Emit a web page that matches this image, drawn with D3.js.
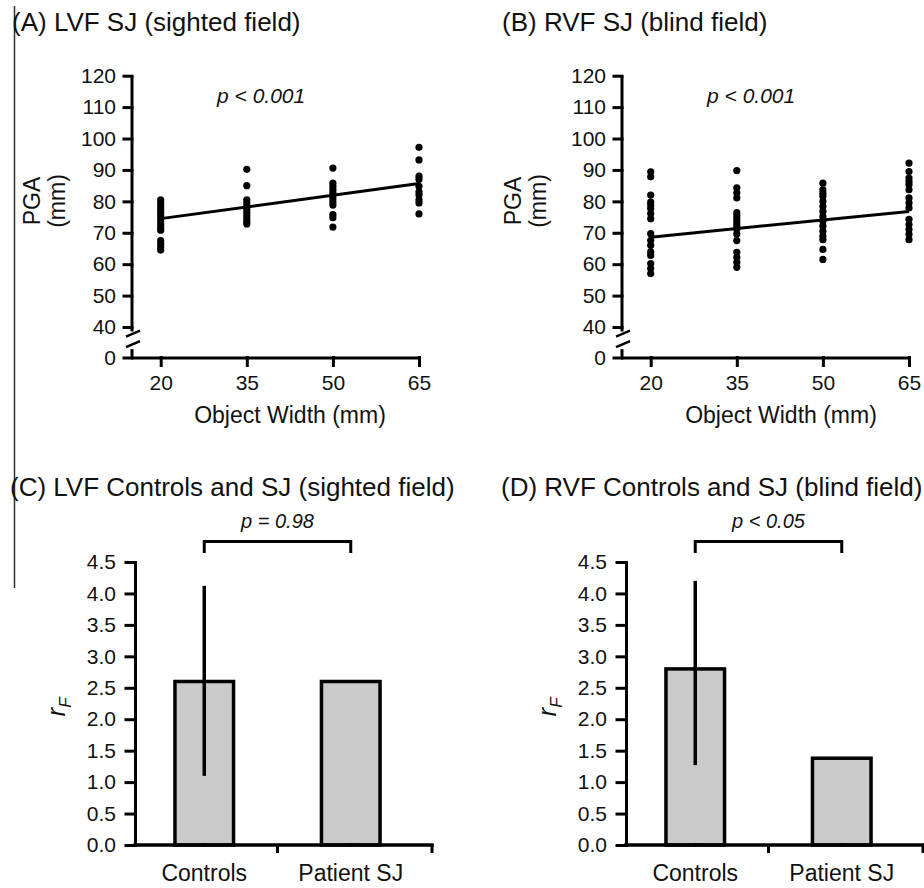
<!DOCTYPE html>
<html><head><meta charset="utf-8">
<script src="https://cdn.jsdelivr.net/npm/d3@7"></script>
<style>
body{margin:0;background:#fff}
text{font-family:"Liberation Sans",Arial,Helvetica,sans-serif;fill:#111}
</style></head><body>
<svg id="chart" width="924" height="888"></svg>
<script>
// ---------- data ----------
const widthTicks = [20, 35, 50, 65];
const pgaTicks = [0, 40, 50, 60, 70, 80, 90, 100, 110, 120];
const rfTicks = [0, 0.5, 1.0, 1.5, 2.0, 2.5, 3.0, 3.5, 4.0, 4.5];

// Panel A: LVF SJ (sighted field), PGA (mm) per object width
const lvf20 = [80.5, 79.5, 78.5, 77.5, 76.5, 75.5, 74.5, 73.5, 72.5, 71.5, 70.8, 67.5, 66.5, 65.5, 64.5];
const lvf35 = [90.2, 85.0, 80.5, 79.5, 78.5, 77.5, 76.5, 75.5, 74.5, 73.5, 72.8];
const lvf50 = [90.6, 85.8, 84.8, 83.8, 82.8, 81.8, 80.8, 79.8, 78.8, 75.8, 74.8, 71.8];
const lvf65 = [97.2, 93.2, 88.0, 87.0, 84.8, 83.0, 82.0, 80.5, 79.5, 76.0];
const lvfFit = [74.5, 85.7];   // fitted PGA at 20 and 65 mm

// Panel B: RVF SJ (blind field)
const rvf20 = [89.4, 87.8, 82.0, 79.8, 78.8, 77.7, 76.1, 74.5, 69.7, 67.6, 66.0, 63.9, 62.8, 60.2, 58.6, 57.0];
const rvf35 = [89.8, 84.3, 82.7, 81.1, 76.4, 75.3, 74.3, 73.2, 72.2, 71.1, 69.6, 67.5, 63.8, 62.2, 60.6, 59.0];
const rvf50 = [85.8, 83.7, 82.6, 81.6, 80.0, 78.4, 76.8, 75.2, 73.7, 72.1, 70.5, 68.9, 67.8, 64.7, 61.5];
const rvf65 = [92.2, 89.5, 87.4, 86.3, 85.3, 83.7, 81.1, 79.5, 77.9, 74.3, 72.6, 71.0, 69.5, 67.8];
const rvfFit = [68.6, 76.8];

// Panels C and D: r_F
const categories = ["Controls", "Patient SJ"];
const lvfRF = [2.6, 2.6];
const lvfErrLow = [1.1, null];
const lvfErrHigh = [4.12, null];
const rvfRF = [2.8, 1.38];
const rvfErrLow = [1.27, null];
const rvfErrHigh = [4.2, null];

// ---------- drawing ----------
const svg = d3.select("#chart");
const FONT_TICK = 21;

// left border line of the original figure
svg.append("line").attr("x1", 14.5).attr("x2", 14.5).attr("y1", 6).attr("y2", 588)
  .attr("stroke", "#333").attr("stroke-width", 1.5);

function styleAxis(g, fs) {
  g.selectAll("path, line").attr("stroke", "#000").attr("stroke-width", 3).attr("stroke-linecap", "square");
  g.selectAll("text").style("font-size", fs + "px").attr("fill", "#111")
    .style("font-family", '"Liberation Sans",Arial,sans-serif');
}

function drawScatter(ox, title, cols, fit, pLabel, xLabelX, pgaX) {
  const x = d3.scaleLinear().domain([15, 65]).range([ox, ox + 287]);
  const y = d3.scaleLinear().domain([0, 40, 120]).range([357.5, 327, 75.7]);
  const g = svg.append("g");

  // title
  g.append("text").attr("x", ox - 120).attr("y", 31).style("font-size", "26px").text(title);

  // y axis (ticks + labels)
  const ya = g.append("g").attr("transform", `translate(${ox},0)`)
    .call(d3.axisLeft(y).tickValues(pgaTicks).tickFormat(d3.format("d")).tickSize(8).tickPadding(8));
  ya.select(".domain").remove();
  styleAxis(ya, FONT_TICK);
  // broken axis line
  g.append("line").attr("x1", ox).attr("x2", ox).attr("y1", y(120)).attr("y2", y(34))
    .attr("stroke", "#000").attr("stroke-width", 3);
  g.append("line").attr("x1", ox).attr("x2", ox).attr("y1", y(11)).attr("y2", y(0))
    .attr("stroke", "#000").attr("stroke-width", 3);
  [y(34) + 5, y(11) - 2].forEach(yy => {
    g.append("line").attr("x1", ox - 6).attr("x2", ox + 8).attr("y1", yy).attr("y2", yy - 6)
      .attr("stroke", "#000").attr("stroke-width", 2.5);
  });

  // x axis
  const xa = g.append("g").attr("transform", `translate(0,${y(0)})`)
    .call(d3.axisBottom(x).tickValues(widthTicks).tickSize(8).tickSizeOuter(0).tickPadding(10));
  styleAxis(xa, FONT_TICK);

  // axis titles
  g.append("text").attr("x", xLabelX).attr("y", 423).attr("text-anchor", "middle")
    .style("font-size", "23px").text("Object Width (mm)");
  g.append("text").attr("transform", `translate(${pgaX},201) rotate(-90)`)
    .attr("text-anchor", "middle").attr("dominant-baseline", "central")
    .style("font-size", "23px").text("PGA");
  g.append("text").attr("transform", `translate(${pgaX + 25},201) rotate(-90)`)
    .attr("text-anchor", "middle").attr("dominant-baseline", "central")
    .style("font-size", "23px").text("(mm)");

  // regression line
  g.append("path").datum([[20, fit[0]], [65, fit[1]]])
    .attr("d", d3.line().x(d => x(d[0])).y(d => y(d[1])))
    .attr("stroke", "#000").attr("stroke-width", 3).attr("fill", "none");

  // dots
  cols.forEach((vals, i) => {
    g.selectAll(null).data(vals).join("circle")
      .attr("cx", x(widthTicks[i])).attr("cy", d => y(d)).attr("r", 3.6).attr("fill", "#000");
  });

  // p value
  g.append("text").attr("x", x(37.5) + 0).attr("y", 103).attr("text-anchor", "middle")
    .style("font-size", "21px").style("font-style", "italic").text(pLabel);
}

function drawBars(ox, title, vals, lo, hi, pLabel) {
  const y = d3.scaleLinear().domain([0, 4.5]).range([845, 562]);
  const x = d3.scaleBand().domain(categories).range([ox - 4, ox + 289]).padding(0);
  const bw = x.bandwidth();
  const g = svg.append("g");

  g.append("text").attr("x", ox - 125).attr("y", 496).style("font-size", "26px").text(title);

  // y axis
  const ya = g.append("g").attr("transform", `translate(${ox},0)`)
    .call(d3.axisLeft(y).tickValues(rfTicks).tickFormat(d3.format(".1f")).tickSize(9).tickSizeOuter(0).tickPadding(10));
  styleAxis(ya, FONT_TICK);

  // y label r_F
  const yl = g.append("text").attr("transform", `translate(${ox - 70},707) rotate(-90)`)
    .attr("text-anchor", "middle").style("font-style", "italic");
  yl.append("tspan").style("font-size", "26px").text("r");
  yl.append("tspan").style("font-size", "17px").attr("dy", 6).text("F");

  // bars
  g.selectAll(null).data(categories).join("rect")
    .attr("x", d => x(d) + bw * 0.3).attr("width", bw * 0.4)
    .attr("y", (d, i) => y(vals[i])).attr("height", (d, i) => y(0) - y(vals[i]))
    .attr("fill", "#cacaca").attr("stroke", "#000").attr("stroke-width", 3.5);

  // error bars
  categories.forEach((c, i) => {
    if (lo[i] == null) return;
    g.append("line").attr("x1", x(c) + bw / 2).attr("x2", x(c) + bw / 2)
      .attr("y1", y(hi[i])).attr("y2", y(lo[i]))
      .attr("stroke", "#000").attr("stroke-width", 3.5);
  });

  // x axis line and ticks
  const xEnd = ox + 297;
  g.append("line").attr("x1", ox).attr("x2", xEnd).attr("y1", y(0)).attr("y2", y(0))
    .attr("stroke", "#000").attr("stroke-width", 3.5).attr("stroke-linecap", "square");
  [x(categories[1]), xEnd].forEach(tx => {
    g.append("line").attr("x1", tx).attr("x2", tx).attr("y1", y(0)).attr("y2", y(0) + 8)
      .attr("stroke", "#000").attr("stroke-width", 3);
  });
  const xa = g.append("g").attr("transform", `translate(0,${y(0)})`)
    .call(d3.axisBottom(x).tickSize(0).tickPadding(20));
  xa.select(".domain").remove();
  styleAxis(xa, 23);

  // significance bracket
  const c0 = x(categories[0]) + bw / 2, c1 = x(categories[1]) + bw / 2;
  g.append("path").attr("d", `M${c0},553V541.5H${c1}V553`)
    .attr("fill", "none").attr("stroke", "#000").attr("stroke-width", 3);
  g.append("text").attr("x", (c0 + c1) / 2).attr("y", 528).attr("text-anchor", "middle")
    .style("font-size", "20px").style("font-style", "italic").text(pLabel);
}

drawScatter(132, "(A) LVF SJ (sighted field)", [lvf20, lvf35, lvf50, lvf65], lvfFit, "p < 0.001", 290, 32);
drawScatter(622, "(B) RVF SJ (blind field)", [rvf20, rvf35, rvf50, rvf65], rvfFit, "p < 0.001", 781, 513);
drawBars(135, "(C) LVF Controls and SJ (sighted field)", lvfRF, lvfErrLow, lvfErrHigh, "p = 0.98");
drawBars(626, "(D) RVF Controls and SJ (blind field)", rvfRF, rvfErrLow, rvfErrHigh, "p < 0.05");
</script>
</body></html>
